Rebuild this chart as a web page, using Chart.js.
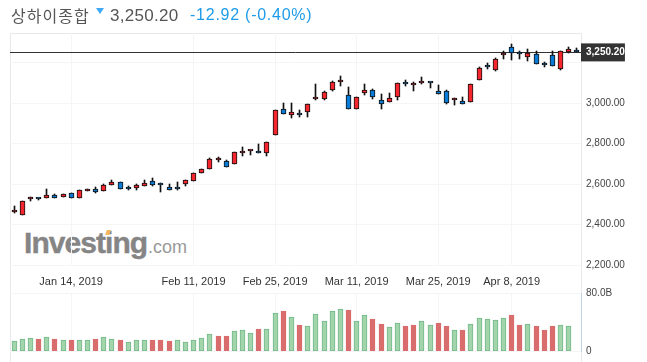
<!DOCTYPE html>
<html>
<head>
<meta charset="utf-8">
<script src="https://cdn.jsdelivr.net/npm/chart.js@4"></script>
<style>
  html, body { margin: 0; padding: 0; background: #fff; overflow: hidden; }
  #page { position: relative; width: 647px; height: 362px; overflow: hidden; }
  #page div, #page canvas, #page span { position: absolute; }
  #frame { left: 10px; top: 33px; width: 570px; height: 340px; border: 1px solid #e8e8e8; box-sizing: content-box; }
  .head { top: 6px; white-space: nowrap; line-height: 22px; }
  #name { left: 11px; font: 16px "Noto Sans CJK KR"; color: #555; top: 3px; letter-spacing: 1px; }
  #arrow { left: 96px; top: 8px; width: 0; height: 0; border-left: 4px solid transparent; border-right: 4px solid transparent; border-top: 6px solid #3fa9f5; }
  #last { left: 110px; font: 17px "Liberation Sans"; color: #555; letter-spacing: 0.3px; }
  #change { left: 190px; font: 16px "Liberation Sans"; color: #1e9be8; letter-spacing: 0.75px; }
  #logo { left: 24px; top: 225px; font: bold 30px/36px "Liberation Sans"; color: #858585; letter-spacing: -0.95px; white-space: nowrap; -webkit-text-stroke: 0.4px #858585; }
  #logo2 { left: 148px; top: 232px; font: 18px/30px "Liberation Sans"; color: #999; white-space: nowrap; }
  #logoDot { left: 106px; top: 230px; width: 4px; height: 5px; background: #f8b75c; transform: skewX(-20deg); }
  #priceChart { left: 0; top: 0; }
  #volumeChart { left: 0; top: 275px; }
</style>
</head>
<body>
<div id="page">
  <div id="frame"></div>
  <div id="logo">Investing</div>
  <div id="logo2">.com</div>
  <div id="logoDot"></div>
  <canvas id="priceChart" width="647" height="293"></canvas>
  <canvas id="volumeChart" width="647" height="87"></canvas>
  <div class="head" id="name">상하이종합</div>
  <div id="arrow"></div>
  <div class="head" id="last">3,250.20</div>
  <div class="head" id="change">-12.92 (-0.40%)</div>
</div>
<script>
// 取引日
var dates = [
  'Jan 3, 2019','Jan 4, 2019','Jan 7, 2019','Jan 8, 2019','Jan 9, 2019','Jan 10, 2019','Jan 11, 2019',
  'Jan 14, 2019','Jan 15, 2019','Jan 16, 2019','Jan 17, 2019','Jan 18, 2019','Jan 21, 2019','Jan 22, 2019',
  'Jan 23, 2019','Jan 24, 2019','Jan 25, 2019','Jan 28, 2019','Jan 29, 2019','Jan 30, 2019','Jan 31, 2019',
  'Feb 1, 2019','Feb 11, 2019','Feb 12, 2019','Feb 13, 2019','Feb 14, 2019','Feb 15, 2019','Feb 18, 2019',
  'Feb 19, 2019','Feb 20, 2019','Feb 21, 2019','Feb 22, 2019','Feb 25, 2019','Feb 26, 2019','Feb 27, 2019',
  'Feb 28, 2019','Mar 1, 2019','Mar 4, 2019','Mar 5, 2019','Mar 6, 2019','Mar 7, 2019','Mar 8, 2019',
  'Mar 11, 2019','Mar 12, 2019','Mar 13, 2019','Mar 14, 2019','Mar 15, 2019','Mar 18, 2019','Mar 19, 2019',
  'Mar 20, 2019','Mar 21, 2019','Mar 22, 2019','Mar 25, 2019','Mar 26, 2019','Mar 27, 2019','Mar 28, 2019',
  'Mar 29, 2019','Apr 1, 2019','Apr 2, 2019','Apr 3, 2019','Apr 4, 2019','Apr 8, 2019','Apr 9, 2019',
  'Apr 10, 2019','Apr 11, 2019','Apr 12, 2019','Apr 15, 2019','Apr 16, 2019','Apr 17, 2019','Apr 18, 2019'
];
var dateTicks = ['Jan 14, 2019','Feb 11, 2019','Feb 25, 2019','Mar 11, 2019','Mar 25, 2019','Apr 8, 2019'];

var opens = [
  2460,2445.5,2526,2528,2532.4,2544.2,2537.3,2554.1,2532.4,2568,
  2573.9,2566.9,2596.6,2608.4,2580.3,2581.8,2591.6,2613.4,2597.6,2583.7,
  2583.7,2598.5,2613.4,2652.9,2673,2717,2712.1,2697.3,2754.6,2761.5,
  2761.5,2751.6,2840.5,2968.9,2939.3,2949.1,2954.1,3018.3,3018.3,3062.7,
  3102.2,3038,2968.9,3047.9,3062.7,3013.3,3003.5,3028.1,3102.2,3090.4,
  3098.8,3105.2,3057.8,3057.8,3013.3,3008.4,3003.5,3112.1,3186.2,3161.5,
  3235.5,3275,3245.4,3225.7,3240.5,3187.6,3235.5,3166.4,3250.4,3260.2
];
var highs = [
  2491,2515,2535,2529,2573.9,2549.2,2552.1,2554.5,2569,2573.9,
  2585.2,2600,2618.3,2609,2590.1,2598.5,2618.3,2628.2,2603.5,2598.5,
  2608.4,2618.5,2653,2673,2728.4,2731.9,2717,2757,2781.3,2766.4,
  2796.1,2806,2964.5,3000,3000,2964,2994,3093.8,3057.8,3107.2,
  3133.3,3077.5,3028.5,3092.3,3067.7,3043,3047.9,3097.5,3112.1,3102.2,
  3126.9,3105.5,3087.4,3062.7,3023.5,3028.1,3092.5,3176.3,3196,3220.7,
  3256.8,3289.9,3256.8,3266.7,3256.8,3201,3256.8,3255.5,3276.5,3270.1
];
var lows = [
  2459,2445,2517.6,2523,2532,2532,2537,2532,2532,2565.5,
  2557,2566,2596,2576,2571.9,2571.9,2591,2591.6,2560.5,2571.5,
  2571.9,2591.6,2613,2652.5,2672.5,2708.7,2682,2697,2739.8,2744.7,
  2751,2739.8,2840,2944,2927.4,2932.3,2932.3,3013.3,3013.3,3057.8,
  3082.5,2968.5,2968.5,3038,3018.3,2970.4,3003,3013.3,3082.5,3057.8,
  3092.3,3072.6,3042.5,2993.6,2991.6,2993,3003,3112,3167.9,3156.5,
  3217.3,3212.3,3217.3,3208.9,3191,3176.3,3181,3161.5,3245.4,3250
];
var closes = [
  2463,2514.6,2534,2524,2544.2,2532.4,2552.1,2532.4,2568.9,2570,
  2559,2593.6,2608.4,2576.8,2575.3,2593.6,2603.5,2596.6,2595.1,2571.9,
  2576.8,2618.3,2652.9,2672.6,2722,2723.5,2682.5,2756.6,2761.5,2763,
  2751.6,2805.9,2964,2944.2,2954.1,2939.3,2993.6,3028.1,3052.8,3102.2,
  3107.2,2968.9,3028.1,3062.7,3028.1,2993.6,3023.2,3097.3,3092.3,3093.8,
  3102.2,3100.2,3043,2998.5,3023.2,2993.6,3092.3,3171.3,3176.3,3215.8,
  3245.4,3245.4,3244,3245.4,3191.1,3186.2,3181.2,3255.3,3265.2,3250.2
];
// 出来高 (単位 B)
var volumes = [
  13.3,17,18.3,16,19.7,16,15.6,14.7,15.6,15.6,
  17,19.7,17,15.6,12.8,15.6,15.6,14.7,15.6,13.3,
  15.6,12.8,15.6,18.3,23.8,20.2,20.2,27,29.3,25.2,
  29.8,29.8,52.7,55.4,47.2,35.3,34.8,51.3,41.7,55.4,
  58.2,56.8,41.7,49.9,44.4,37.6,33.4,38.9,34.8,36.2,
  41.7,36.2,38,34.8,29.3,29.3,37.6,45.8,44.4,43,
  45.8,49.9,36.2,37.6,34.8,29.3,34.8,36.2,34.8,null
];
// 1 = 緑, 0 = 赤
var volumeGreen = [
  1,1,1,0,1,0,1,0,1,1,
  0,1,1,0,1,1,1,0,0,0,
  1,1,1,1,1,0,0,1,1,1,
  0,1,1,0,1,0,1,1,1,1,
  1,0,1,1,0,0,1,1,0,0,
  1,1,0,0,1,0,1,1,1,1,
  1,0,0,1,0,0,0,1,1,1
];
var priceTicks = [2200, 2400, 2600, 2800, 3000, 3200];
var lastPrice = 3250.2;
var volumeTicks = [0, 80];

var RED = '#f5262e', BLUE = '#0a7cd8', GRID = '#f5f5f5';
var AXIS_FONT = 'Liberation Sans';

// にじまないようにバーをピクセルに揃える
var snapBars = {
  id: 'snapBars',
  afterDatasetsUpdate: function(chart) {
    chart.getSortedVisibleDatasetMetas().forEach(function(meta) {
      meta.data.forEach(function(el) {
        el.x = Math.round(el.x - 0.5) + 0.5;
        el.y = Math.round(el.y);
        el.base = Math.round(el.base);
      });
    });
  }
};

function xTicksFromDates(scale) {
  scale.ticks = dateTicks.map(function(d) { return { value: dates.indexOf(d) }; });
}

new Chart(document.getElementById('priceChart'), {
  type: 'bar',
  data: {
    labels: dates,
    datasets: [
      {
        label: 'wick',
        data: dates.map(function(d, i) { return [lows[i], highs[i]]; }),
        backgroundColor: '#111',
        barThickness: 1,
        grouped: false,
        order: 2
      },
      {
        label: 'body',
        data: dates.map(function(d, i) { return [opens[i], closes[i]]; }),
        backgroundColor: dates.map(function(d, i) { return closes[i] >= opens[i] ? RED : BLUE; }),
        borderColor: '#111',
        borderWidth: 1,
        borderSkipped: false,
        barThickness: 5,
        minBarLength: 2,
        grouped: false,
        order: 1
      }
    ]
  },
  plugins: [snapBars],
  options: {
    responsive: false,
    animation: false,
    layout: { padding: { left: 10, top: 33, right: 0, bottom: 0 } },
    plugins: { legend: { display: false }, tooltip: { enabled: false } },
    scales: {
      x: {
        afterBuildTicks: xTicksFromDates,
        afterFit: function(scale) { scale.height = 28; },
        grid: { color: GRID, offset: false, drawTicks: false },
        border: { display: false },
        ticks: {
          autoSkip: false, maxRotation: 0, padding: 10, color: '#333',
          font: { family: AXIS_FONT, size: 11 }
        }
      },
      y: {
        position: 'right',
        min: 2200,
        max: 3346,
        afterBuildTicks: function(scale) {
          scale.ticks = priceTicks.concat([lastPrice]).map(function(v) { return { value: v }; });
        },
        afterFit: function(scale) { scale.width = 66; },
        grid: {
          drawTicks: false,
          color: function(ctx) { return ctx.tick && ctx.tick.value === lastPrice ? '#333' : GRID; }
        },
        border: { display: false },
        ticks: {
          padding: 5,
          color: function(ctx) { return ctx.tick.value === lastPrice ? '#fff' : '#444'; },
          font: function(ctx) {
            return { family: AXIS_FONT, size: 10, weight: ctx.tick && ctx.tick.value === lastPrice ? 'bold' : 'normal' };
          },
          showLabelBackdrop: function(ctx) { return ctx.tick.value === lastPrice; },
          backdropColor: '#333',
          backdropPadding: { left: 5, right: 0, top: 3, bottom: 3 },
          callback: function(v) {
            if (v === 3200) return ''; // 現在値ラベルに隠れる
            return v.toLocaleString('en-US', { minimumFractionDigits: 2, maximumFractionDigits: 2 });
          }
        }
      }
    }
  }
});

new Chart(document.getElementById('volumeChart'), {
  type: 'bar',
  data: {
    labels: dates,
    datasets: [{
      label: 'volume',
      data: volumes,
      backgroundColor: volumeGreen.map(function(g) { return g ? '#a3d5ad' : '#d96c6c'; }),
      borderColor: volumeGreen.map(function(g) { return g ? '#72b886' : '#d96c6c'; }),
      borderWidth: 1,
      borderSkipped: false,
      barThickness: 5
    }]
  },
  plugins: [snapBars],
  options: {
    responsive: false,
    animation: false,
    layout: { padding: { left: 10, top: 18, right: 0, bottom: 10 } },
    plugins: { legend: { display: false }, tooltip: { enabled: false } },
    scales: {
      x: {
        afterBuildTicks: xTicksFromDates,
        afterFit: function(scale) { scale.height = 0; },
        grid: { color: GRID, offset: false, drawTicks: false },
        border: { display: false },
        ticks: { display: false }
      },
      y: {
        position: 'right',
        min: 0,
        max: 80,
        afterBuildTicks: function(scale) {
          scale.ticks = volumeTicks.map(function(v) { return { value: v }; });
        },
        afterFit: function(scale) { scale.width = 66; },
        grid: { color: GRID, drawTicks: false },
        border: { color: '#c3d2e2', width: 1 },
        ticks: {
          padding: 5, color: '#444',
          font: { family: AXIS_FONT, size: 10 },
          callback: function(v) { return v === 0 ? '0' : v.toFixed(1) + 'B'; }
        }
      }
    }
  }
});
</script>
</body>
</html>
